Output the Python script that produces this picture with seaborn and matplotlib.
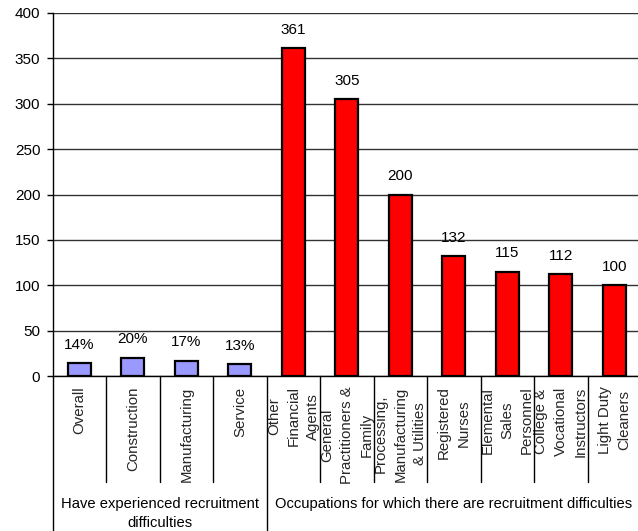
import matplotlib
matplotlib.use("Agg")
import matplotlib.pyplot as plt
import seaborn as sns
import pandas as pd

# Survey results: share of firms reporting recruitment difficulties (percent)
sector_labels = ["Overall", "Construction", "Manufacturing", "Service"]
sector_values = [14, 20, 17, 13]

# Occupations with recruitment difficulties (number of reports)
occupation_labels = [
    "Other\nFinancial\nAgents",
    "General\nPractitioners &\nFamily",
    "Processing,\nManufacturing\n& Utilities",
    "Registered\nNurses",
    "Elemental\nSales\nPersonnel",
    "College &\nVocational\nInstructors",
    "Light Duty\nCleaners",
]
occupation_values = [361, 305, 200, 132, 115, 112, 100]

group_titles = [
    "Have experienced recruitment\ndifficulties",
    "Occupations for which there are recruitment difficulties",
]
y_ticks = [0, 50, 100, 150, 200, 250, 300, 350, 400]

df = pd.DataFrame({
    "category": sector_labels + occupation_labels,
    "value": sector_values + occupation_values,
    "group": [group_titles[0]] * len(sector_labels) + [group_titles[1]] * len(occupation_labels),
    "label": [f"{v}%" for v in sector_values] + [f"{v}" for v in occupation_values],
})

sns.set_style("white")
plt.rcParams["font.family"] = ["Liberation Sans", "DejaVu Sans"]

W, H = 638, 531
fig = plt.figure(figsize=(W / 100, H / 100), dpi=100)
x0, x1, ytop, ybot = 52.75, 641.0, 13.0, 376.0
ax = fig.add_axes([x0 / W, 1 - ybot / H, (x1 - x0) / W, (ybot - ytop) / H])

sns.barplot(
    data=df, x="category", y="value", hue="group",
    order=df["category"].tolist(),
    palette=["#9999FF", "#FF0000"], dodge=False, width=0.43,
    edgecolor="black", linewidth=1.6, saturation=1, legend=False, ax=ax,
    zorder=3,
)

n = len(df)
ax.set_xlim(-0.5, n - 0.5)
ax.set_ylim(0, 400)
ax.set_yticks(y_ticks)
ax.tick_params(axis="y", length=4.5, width=1, color="black", pad=4.5,
               labelsize=11, labelcolor="black", left=True)
ax.yaxis.grid(True, color="#333333", linewidth=1, zorder=0)
ax.set_axisbelow(True)
ax.set_xlabel("")
ax.set_ylabel("")

for side in ("top", "right"):
    ax.spines[side].set_visible(False)
for side in ("left", "bottom"):
    ax.spines[side].set_color("black")
    ax.spines[side].set_linewidth(1)

# Category labels below the axis
ax.set_xticks(range(n))
ax.set_xticklabels(df["category"], rotation=90, va="top", ha="center",
                   multialignment="center", linespacing=1.5, fontsize=10.8)
ax.tick_params(axis="x", length=0, pad=7.5)

# Value labels above the bars
for i, (v, lab) in enumerate(zip(df["value"], df["label"])):
    ax.annotate(lab, (i, v), xytext=(0, 10.5), textcoords="offset points",
                ha="center", va="baseline", fontsize=11, color="black")

# Separator lines of the two-level category axis
trans = ax.get_xaxis_transform()
inner_bottom = (ybot - 482) / (ybot - ytop)
outer_bottom = (ybot - H) / (ybot - ytop)
n_sector = len(sector_labels)
for b in range(1, n):
    edge = b - 0.5
    low = outer_bottom if b == n_sector else inner_bottom
    ax.plot([edge, edge], [0, low], transform=trans, color="black",
            linewidth=1, clip_on=False)
ax.plot([-0.5, -0.5], [0, outer_bottom], transform=trans, color="black",
        linewidth=1, clip_on=False)

# Group titles
title_y = (ybot - 497) / (ybot - ytop)
centers = [(-0.5 + n_sector - 0.5) / 2, (n_sector - 0.5 + n - 0.5) / 2]
for cx, title in zip(centers, group_titles):
    ax.text(cx, title_y, title, transform=trans, ha="center", va="top",
            multialignment="center", linespacing=1.45, fontsize=10.6,
            color="black")

fig.savefig("out.png", dpi=100, facecolor="white")
